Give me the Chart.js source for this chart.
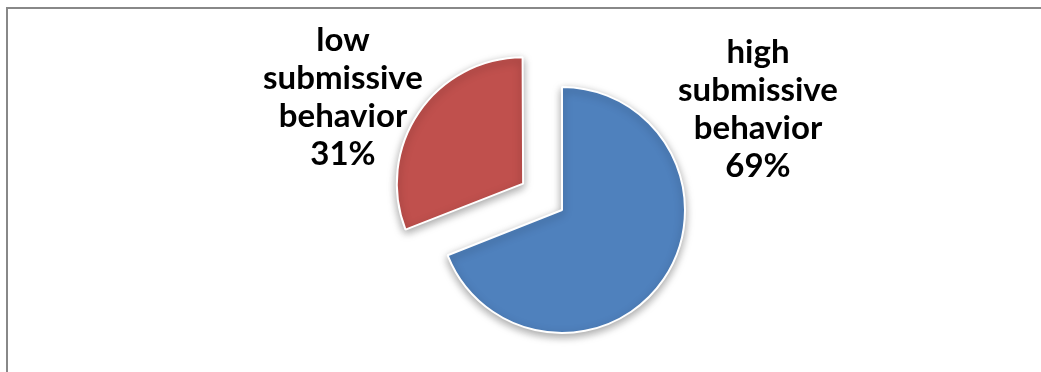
<!DOCTYPE html>
<html>
<head>
<meta charset="utf-8">
<script src="https://cdn.jsdelivr.net/npm/chart.js@4/dist/chart.umd.min.js"></script>
<style>
  html, body { margin: 0; padding: 0; background: #fff; overflow: hidden; }
  #frame {
    position: absolute; left: 6px; top: 7px;
    width: 1100px; height: 420px;
    border: 2px solid #888;
  }
  #pie { position: absolute; left: 0; top: 0; }
</style>
</head>
<body>
<div id="frame"></div>
<canvas id="pie" width="1041" height="372"></canvas>
<script>
// chart data
const categories = ['high submissive behavior', 'low submissive behavior'];
const percents = [69, 31];
const sliceColors = ['#4F81BD', '#C0504D'];
// Chart.js moves an arc by offset/4, so 188 gives ~47px
const explode = [0, 188];

// label placement relative to the pie centre (first line centre)
const labelAnchors = [
    { dx: 196, dy: -158 },
    { dx: -219, dy: -170 }
];

const shadowPlugin = {
    id: 'pieShadow',
    beforeDatasetsDraw(chart) {
        const ctx = chart.ctx;
        ctx.save();
        ctx.shadowColor = 'rgba(0,0,0,0.35)';
        ctx.shadowBlur = 9;
        ctx.shadowOffsetY = 3;
    },
    afterDatasetsDraw(chart) {
        chart.ctx.restore();
    }
};

const labelPlugin = {
    id: 'sliceLabels',
    afterDraw(chart) {
        const ctx = chart.ctx;
        const meta = chart.getDatasetMeta(0);
        ctx.save();
        ctx.font = 'bold 33px Lato, "Open Sans", sans-serif';
        ctx.fillStyle = '#000';
        ctx.textAlign = 'center';
        ctx.textBaseline = 'middle';
        meta.data.forEach((arc, i) => {
            const lines = categories[i].split(' ').concat([percents[i] + '%']);
            const a = labelAnchors[i];
            lines.forEach((line, j) => {
                ctx.fillText(line, arc.x + a.dx, arc.y + a.dy + j * 38);
            });
        });
        ctx.restore();
    }
};

new Chart(document.getElementById('pie'), {
    type: 'pie',
    data: {
        labels: categories,
        datasets: [{
            data: percents,
            backgroundColor: sliceColors,
            borderColor: '#ffffff',
            borderWidth: 2,
            offset: explode
        }]
    },
    options: {
        responsive: false,
        animation: false,
        radius: 123,
        layout: { padding: { left: 83, right: 0, top: 48, bottom: 0 } },
        plugins: {
            legend: { display: false },
            tooltip: { enabled: false }
        }
    },
    plugins: [shadowPlugin, labelPlugin]
});
</script>
</body>
</html>
